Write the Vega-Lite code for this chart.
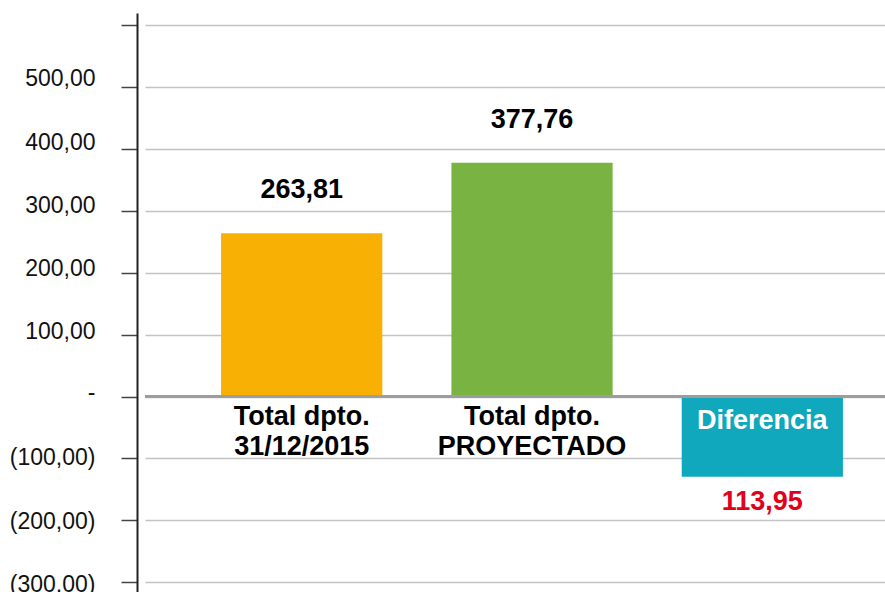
{
  "$schema": "https://vega.github.io/schema/vega-lite/v6.json",
  "width": 740,
  "height": 579,
  "autosize": {"type": "none"},
  "padding": {"left": 145, "top": 13, "right": 0, "bottom": 0},
  "background": "white",
  "config": {"view": {"stroke": null}, "font": "Liberation Sans"},
  "data": {"values": [
    {"cat": "Total dpto.|31/12/2015", "value": 263.81, "label": "263,81"},
    {"cat": "Total dpto.|PROYECTADO", "value": 377.76, "label": "377,76"},
    {"cat": "Diferencia", "value": -129.5, "label": "113,95"}
  ]},
  "layer": [
    {
      "mark": {"type": "bar"},
      "encoding": {
        "x": {"field": "cat", "type": "nominal", "sort": null, "axis": null,
              "scale": {"paddingInner": 0.3, "paddingOuter": 0.2565, "align": 0.644}},
        "y": {"field": "value", "type": "quantitative",
              "scale": {"domain": [-316, 620], "nice": false, "zero": false},
              "axis": {
                "values": [-300, -200, -100, 0, 100, 200, 300, 400, 500, 600],
                "title": null,
                "offset": 8,
                "domainColor": "#222", "domainWidth": 2,
                "tickColor": "#444", "tickWidth": 1.5, "tickSize": 16,
                "grid": true, "gridColor": "#c3c3c3", "gridWidth": 1.3,
                "labelFont": "Liberation Sans", "labelFontSize": 23, "labelColor": "#111",
                "labelPadding": 26,
                "labelExpr": "datum.value == 600 ? '' : datum.value == 0 ? '-' : datum.value < 0 ? '(' + replace(format(-datum.value, '.2f'), '.', ',') + ')' : replace(format(datum.value, '.2f'), '.', ',')",
                "labelOffset": {"condition": [
                  {"test": "datum.value >= 450", "value": -8.5},
                  {"test": "datum.value >= 350", "value": -7},
                  {"test": "datum.value >= 250", "value": -5.7},
                  {"test": "datum.value >= 150", "value": -4.4},
                  {"test": "datum.value >= 50", "value": -3},
                  {"test": "datum.value >= -50", "value": -4},
                  {"test": "datum.value >= -150", "value": -0.5},
                  {"test": "datum.value >= -250", "value": 1}
                ], "value": 2.3}
              }},
        "color": {"field": "cat", "type": "nominal", "legend": null,
                  "scale": {"domain": ["Total dpto.|31/12/2015", "Total dpto.|PROYECTADO", "Diferencia"],
                            "range": ["#F8B004", "#79B443", "#10A8BD"]}}
      }
    },
    {
      "mark": {"type": "rule", "color": "#9d9d9d", "strokeWidth": 3},
      "encoding": {"y": {"datum": 0}}
    },
    {
      "transform": [{"filter": "datum.value > 0"}],
      "mark": {"type": "text", "fontWeight": "bold", "fontSize": 27, "baseline": "alphabetic", "dy": -35, "color": "#000"},
      "encoding": {
        "x": {"field": "cat", "type": "nominal", "sort": null},
        "y": {"field": "value", "type": "quantitative"},
        "text": {"field": "label"}
      }
    },
    {
      "transform": [{"filter": "datum.value < 0"}],
      "mark": {"type": "text", "fontWeight": "bold", "fontSize": 27, "baseline": "alphabetic", "dy": 33, "color": "#E2001A"},
      "encoding": {
        "x": {"field": "cat", "type": "nominal", "sort": null},
        "y": {"field": "value", "type": "quantitative"},
        "text": {"field": "label"}
      }
    },
    {
      "transform": [{"filter": "datum.value > 0"}],
      "mark": {"type": "text", "fontWeight": "bold", "fontSize": 27, "baseline": "alphabetic", "dy": 28.5, "lineHeight": 30, "lineBreak": "|", "color": "#000"},
      "encoding": {
        "x": {"field": "cat", "type": "nominal", "sort": null},
        "y": {"datum": 0},
        "text": {"field": "cat"}
      }
    },
    {
      "transform": [{"filter": "datum.value < 0"}],
      "mark": {"type": "text", "fontWeight": "bold", "fontSize": 27, "baseline": "alphabetic", "dy": 32, "color": "#ffffff"},
      "encoding": {
        "x": {"field": "cat", "type": "nominal", "sort": null},
        "y": {"datum": 0},
        "text": {"field": "cat"}
      }
    }
  ]
}
